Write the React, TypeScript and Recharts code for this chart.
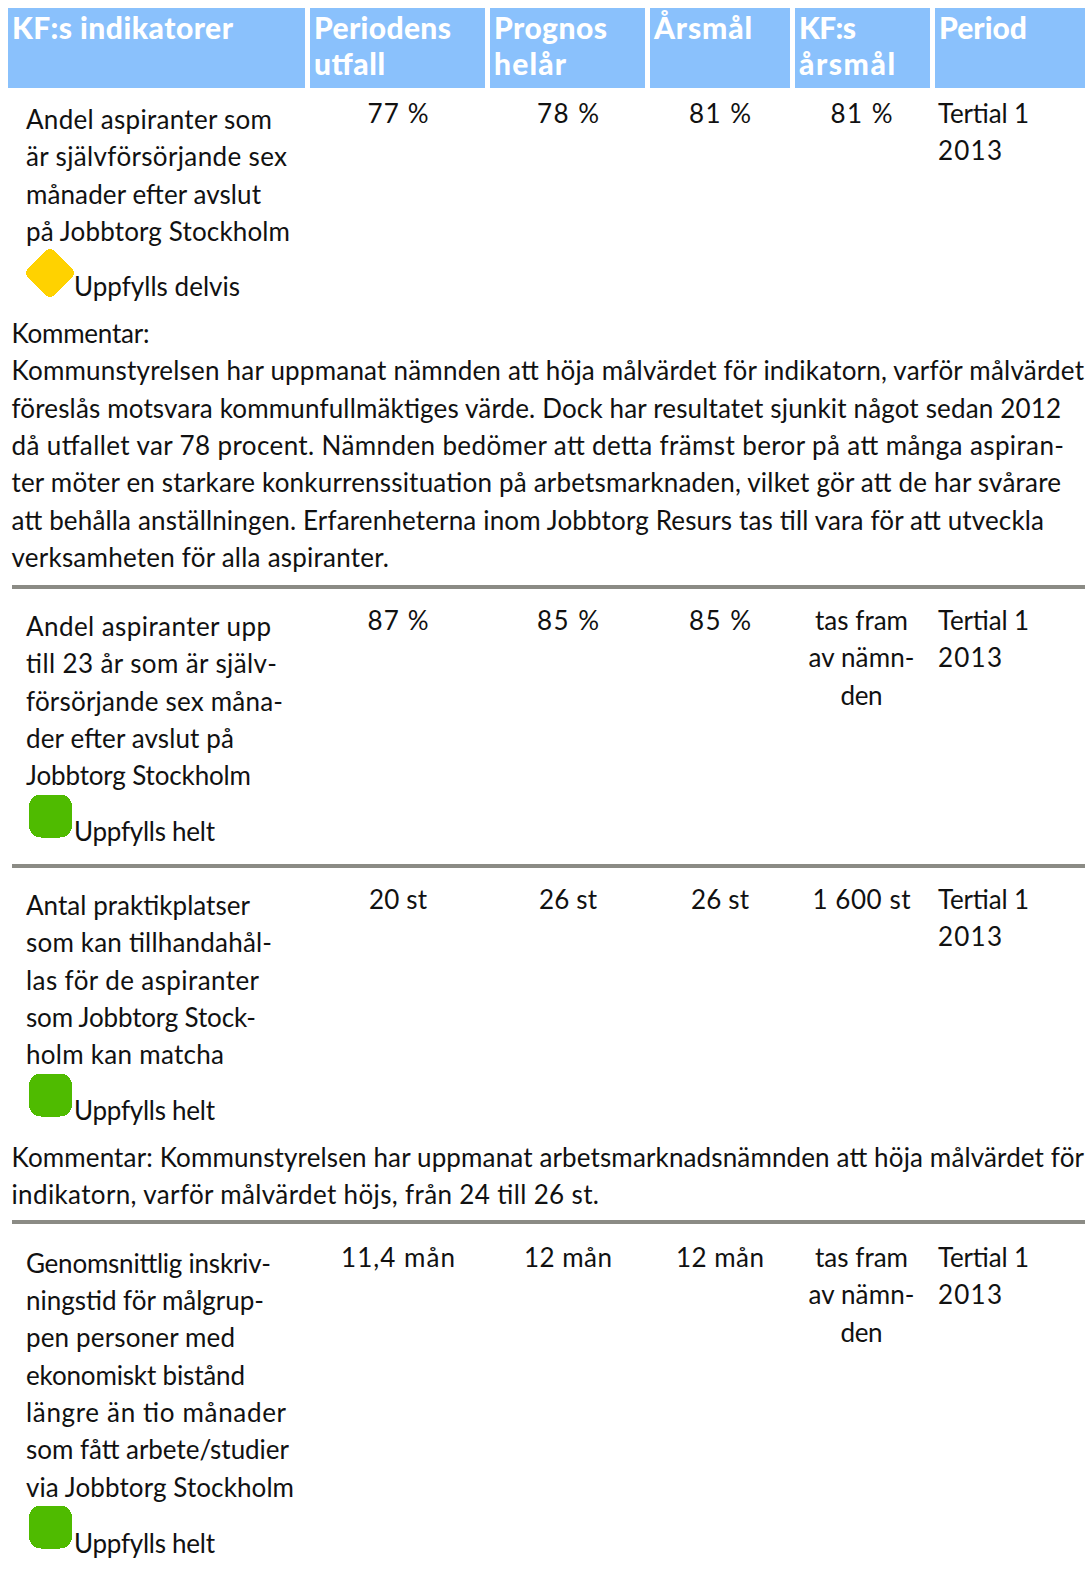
import { ScatterChart, Scatter, XAxis, YAxis, ReferenceArea } from 'recharts'

const WIDTH = 1085
const HEIGHT = 1570

// table content
const headers = [
  ['KF:s indikatorer'],
  ['Periodens', 'utfall'],
  ['Prognos', 'helår'],
  ['Årsmål'],
  ['KF:s', 'årsmål'],
  ['Period'],
]
const indicators = [
  ['Andel aspiranter som', 'är självförsörjande sex', 'månader efter avslut', 'på Jobbtorg Stockholm'],
  ['Andel aspiranter upp', 'till 23 år som är själv-', 'försörjande sex måna-', 'der efter avslut på', 'Jobbtorg Stockholm'],
  ['Antal praktikplatser', 'som kan tillhandahål-', 'las för de aspiranter', 'som Jobbtorg Stock-', 'holm kan matcha'],
  ['Genomsnittlig inskriv-', 'ningstid för målgrup-', 'pen personer med', 'ekonomiskt bistånd', 'längre än tio månader', 'som fått arbete/studier', 'via Jobbtorg Stockholm'],
]
const outcomes = ['77 %', '87 %', '20 st', '11,4 mån']
const forecasts = ['78 %', '85 %', '26 st', '12 mån']
const yearTargets = ['81 %', '85 %', '26 st', '12 mån']
const kfTargets = [['81 %'], ['tas fram', 'av nämn-', 'den'], ['1 600 st'], ['tas fram', 'av nämn-', 'den']]
const periods = ['Tertial 1', '2013']
const statuses = ['Uppfylls delvis', 'Uppfylls helt', 'Uppfylls helt', 'Uppfylls helt']
const comments = [
  [
    'Kommentar:',
    'Kommunstyrelsen har uppmanat nämnden att höja målvärdet för indikatorn, varför målvärdet',
    'föreslås motsvara kommunfullmäktiges värde. Dock har resultatet sjunkit något sedan 2012',
    'då utfallet var 78 procent. Nämnden bedömer att detta främst beror på att många aspiran-',
    'ter möter en starkare konkurrenssituation på arbetsmarknaden, vilket gör att de har svårare',
    'att behålla anställningen. Erfarenheterna inom Jobbtorg Resurs tas till vara för att utveckla',
    'verksamheten för alla aspiranter.',
  ],
  [],
  [
    'Kommentar: Kommunstyrelsen har uppmanat arbetsmarknadsnämnden att höja målvärdet för',
    'indikatorn, varför målvärdet höjs, från 24 till 26 st.',
  ],
  [],
]

// page geometry in pixels, the axes run 1:1 with the page
const headerColumns = [
  [8, 305], [310, 485], [490, 645], [650, 790], [795, 930], [935, 1085],
]
const valueCenters = [398, 568, 720, 861.5]
const PERIOD_X = 938
const NAME_X = 26
const COMMENT_X = 11.5
const STATUS_X = 74
const LINE = 37.35
const rowTops = [
  { name: 129, value: 123, status: 296, comment: 343, mark: 273 },
  { name: 636, value: 630, status: 841, comment: 0, mark: 816 },
  { name: 915, value: 909, status: 1120, comment: 1167, mark: 1095 },
  { name: 1272.5, value: 1267, status: 1552.5, comment: 0, mark: 1527 },
]
const ruleRows = [587, 866, 1222]

// set width of each line, the installed fonts run a little off the original face
const lineWidths: Record<string, number> = {
  'KF:s indikatorer': 221, Periodens: 137, utfall: 71, Prognos: 113, 'helår': 72,
  'Årsmål': 98, 'KF:s': 57, 'årsmål': 96, Period: 88,
  'Andel aspiranter som': 246, 'är självförsörjande sex': 261, 'månader efter avslut': 235, 'på Jobbtorg Stockholm': 264,
  'Andel aspiranter upp': 245, 'till 23 år som är själv-': 251, 'försörjande sex måna-': 257, 'der efter avslut på': 208, 'Jobbtorg Stockholm': 225,
  'Antal praktikplatser': 224, 'som kan tillhandahål-': 246, 'las för de aspiranter': 233, 'som Jobbtorg Stock-': 230, 'holm kan matcha': 198,
  'Genomsnittlig inskriv-': 245, 'ningstid för målgrup-': 238, 'pen personer med': 209, 'ekonomiskt bistånd': 219,
  'längre än tio månader': 260, 'som fått arbete/studier': 263, 'via Jobbtorg Stockholm': 268,
  'Uppfylls delvis': 166, 'Uppfylls helt': 141,
  'Kommentar:': 138,
  'Kommunstyrelsen har uppmanat nämnden att höja målvärdet för indikatorn, varför målvärdet': 1072.5,
  'föreslås motsvara kommunfullmäktiges värde. Dock har resultatet sjunkit något sedan 2012': 1049.5,
  'då utfallet var 78 procent. Nämnden bedömer att detta främst beror på att många aspiran-': 1052.5,
  'ter möter en starkare konkurrenssituation på arbetsmarknaden, vilket gör att de har svårare': 1049.5,
  'att behålla anställningen. Erfarenheterna inom Jobbtorg Resurs tas till vara för att utveckla': 1032.5,
  'verksamheten för alla aspiranter.': 377.5,
  'Kommentar: Kommunstyrelsen har uppmanat arbetsmarknadsnämnden att höja målvärdet för': 1072.5,
  'indikatorn, varför målvärdet höjs, från 24 till 26 st.': 587.5,
  'Tertial 1': 91, '2013': 64, 'tas fram': 93, 'av nämn-': 106, den: 42, '1 600 st': 98, '11,4 mån': 114, '12 mån': 88,
  '20 st': 58, '26 st': 58, '77 %': 61, '78 %': 62, '81 %': 62, '87 %': 61, '85 %': 62,
}

const BODY_FONT = 'Lato, sans-serif'

const headerPoints = headers.flatMap((lines, c) =>
  lines.map((text, l) => ({ x: headerColumns[c][0] + 4, y: 38.5 + l * 36.5, text })),
)
const bodyPoints = rowTops.flatMap((row, r) => [
  ...indicators[r].map((text, l) => ({ x: NAME_X, y: row.name + l * LINE, text })),
  { x: STATUS_X, y: row.status, text: statuses[r] },
  ...comments[r].map((text, l) => ({ x: COMMENT_X, y: row.comment + l * LINE, text })),
  ...periods.map((text, l) => ({ x: PERIOD_X, y: row.value + l * LINE, text })),
])
const valuePoints = rowTops.flatMap((row, r) => [
  { x: valueCenters[0], y: row.value, text: outcomes[r] },
  { x: valueCenters[1], y: row.value, text: forecasts[r] },
  { x: valueCenters[2], y: row.value, text: yearTargets[r] },
  ...kfTargets[r].map((text, l) => ({ x: valueCenters[3], y: row.value + l * LINE, text })),
])
const markPoints = rowTops.map((row, r) => ({
  x: r === 0 ? 50 : 50.5,
  y: row.mark,
  status: statuses[r],
}))

const HeaderText = ({ cx, cy, payload }: any) => (
  <text
    x={cx}
    y={cy}
    fill="#ffffff"
    fontFamily={BODY_FONT}
    fontWeight={900}
    fontSize={30}
    textLength={lineWidths[payload.text]}
    lengthAdjust="spacing"
  >
    {payload.text}
  </text>
)

const BodyText = ({ cx, cy, payload }: any) => (
  <text
    x={cx}
    y={cy}
    fill="#111111"
    fontFamily={BODY_FONT}
    fontSize={26}
    textLength={lineWidths[payload.text]}
    lengthAdjust="spacing"
  >
    {payload.text}
  </text>
)

const ValueText = ({ cx, cy, payload }: any) => (
  <text
    x={cx}
    y={cy}
    fill="#111111"
    fontFamily={BODY_FONT}
    fontSize={26}
    textAnchor="middle"
    textLength={lineWidths[payload.text]}
    lengthAdjust="spacing"
  >
    {payload.text}
  </text>
)

const StatusMark = ({ cx, cy, payload }: any) =>
  payload.status === 'Uppfylls delvis' ? (
    <rect
      x={cx - 18.5}
      y={cy - 18.5}
      width={37}
      height={37}
      rx={5}
      fill="#ffd200"
      transform={`rotate(45 ${cx} ${cy})`}
      shapeRendering="crispEdges"
    />
  ) : (
    <rect x={cx - 21.5} y={cy - 21.5} width={43} height={43} rx={12} fill="#4fbb00" shapeRendering="crispEdges" />
  )

export default function App() {
  return (
    <div style={{ position: 'absolute', left: 0, top: 0, width: WIDTH, height: HEIGHT, background: '#ffffff' }}>
      <ScatterChart width={WIDTH} height={HEIGHT} margin={{ top: 0, right: 0, bottom: 0, left: 0 }}>
        <XAxis type="number" dataKey="x" domain={[0, WIDTH]} hide />
        <YAxis type="number" dataKey="y" domain={[0, HEIGHT]} reversed hide />
        {headerColumns.map(([x1, x2]) => (
          <ReferenceArea key={x1} x1={x1} x2={x2} y1={8} y2={88} fill="#8ac1fc" fillOpacity={1} stroke="none" />
        ))}
        {ruleRows.map((y) => (
          <ReferenceArea key={y} x1={12} x2={1085} y1={y - 2} y2={y + 2} fill="#8b8b85" fillOpacity={1} stroke="none" />
        ))}
        <Scatter data={markPoints} shape={StatusMark} isAnimationActive={false} />
        <Scatter data={headerPoints} shape={HeaderText} isAnimationActive={false} />
        <Scatter data={bodyPoints} shape={BodyText} isAnimationActive={false} />
        <Scatter data={valuePoints} shape={ValueText} isAnimationActive={false} />
      </ScatterChart>
    </div>
  )
}
